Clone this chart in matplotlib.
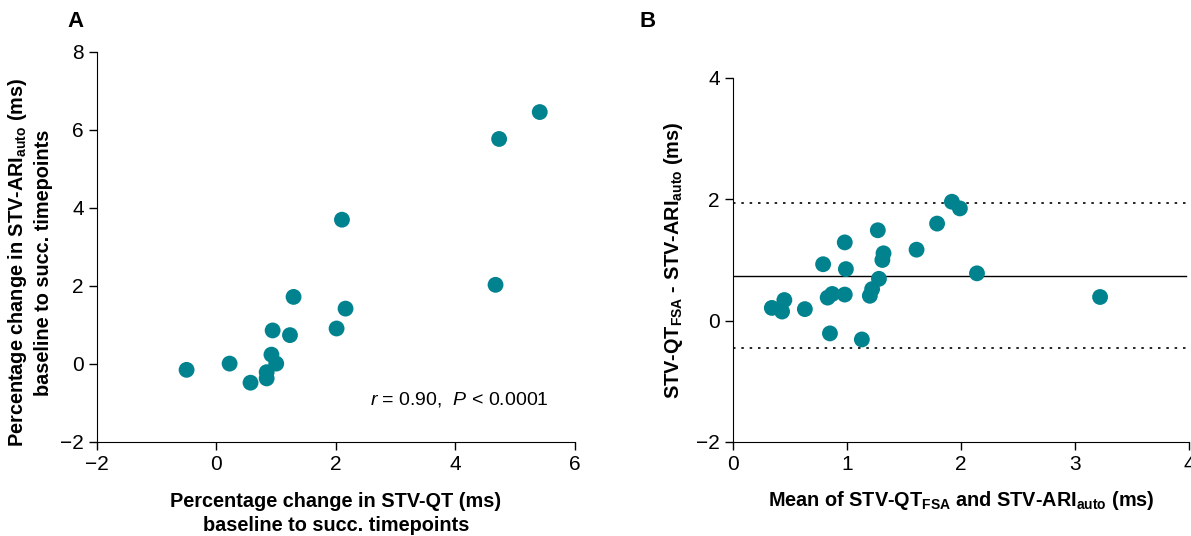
import matplotlib
matplotlib.use("Agg")
import matplotlib.pyplot as plt

plt.rcParams['font.family'] = ['Liberation Sans', 'DejaVu Sans']
plt.rcParams['mathtext.fontset'] = 'custom'
plt.rcParams['mathtext.rm'] = 'Liberation Sans'
plt.rcParams['mathtext.bf'] = 'Liberation Sans:bold'
plt.rcParams['mathtext.it'] = 'Liberation Sans:italic'

# panel A: percentage change, STV-QT vs STV-ARI
a_x = [-0.50, 0.22, 0.57, 0.84, 0.84, 0.92, 1.00, 0.94, 1.23, 1.29,
       2.01, 2.16, 2.10, 4.67, 4.73, 5.41]
a_y = [-0.15, 0.01, -0.48, -0.21, -0.37, 0.24, 0.01, 0.86, 0.74, 1.72,
       0.91, 1.42, 3.70, 2.03, 5.77, 6.46]

# panel B: Bland-Altman
b_mean = [0.34, 0.43, 0.45, 0.63, 0.79, 0.83, 0.87, 0.85, 0.98, 0.98,
          0.99, 1.13, 1.20, 1.22, 1.28, 1.27, 1.31, 1.32, 1.61, 1.79,
          1.92, 1.99, 2.14, 3.22]
b_diff = [0.21, 0.15, 0.34, 0.19, 0.93, 0.38, 0.44, -0.21, 0.43, 1.29,
          0.85, -0.31, 0.41, 0.52, 0.69, 1.49, 1.00, 1.11, 1.17, 1.60,
          1.96, 1.85, 0.78, 0.39]
bias = 0.74
loa_hi = 1.94
loa_lo = -0.45

teal = '#00838f'

fig = plt.figure(figsize=(11.91, 5.36), dpi=100)
axA = fig.add_axes([0.0814, 0.1754, 0.4014, 0.7276])
axB = fig.add_axes([0.6155, 0.1754, 0.3828, 0.6791])

for ax in (axA, axB):
    ax.spines['top'].set_visible(False)
    ax.spines['right'].set_visible(False)
    ax.tick_params(direction='out', length=6, width=1, labelsize=15)

axA.scatter(a_x, a_y, s=130, color=teal, edgecolors='none', zorder=3)
axA.set_xlim(-2, 6)
axA.set_ylim(-2, 8)
axA.set_xticks([-2, 0, 2, 4, 6])
axA.set_yticks([-2, 0, 2, 4, 6, 8])
axA.set_xticklabels(['\u22122', '0', '2', '4', '6'])
axA.set_yticklabels(['\u22122', '0', '2', '4', '6', '8'])
axA.set_xlabel('Percentage change in STV-QT (ms)\nbaseline to succ. timepoints',
               fontsize=14.3, fontweight='bold', labelpad=13, linespacing=1.35)
axA.set_ylabel('Percentage change in STV-ARI$_{\\mathbf{auto}}$ (ms)\nbaseline to succ. timepoints',
               fontsize=14.3, fontweight='bold', linespacing=1.35)
axA.yaxis.set_label_coords(-0.092, 0.46)
axA.text(0.945, 0.108, '$\\mathit{r}$ = 0.90,  $\\mathit{P}$ < 0.0001',
         transform=axA.transAxes, ha='right', va='center', fontsize=14)
fig.text(0.057, 0.96, 'A', fontsize=16, fontweight='bold', va='center')

axB.scatter(b_mean, b_diff, s=130, color=teal, edgecolors='none', zorder=3)
axB.axhline(bias, color='black', lw=1, xmax=0.993)
axB.axhline(loa_hi, color='black', lw=1.2, dashes=(1.5, 3.5))
axB.axhline(loa_lo, color='black', lw=1.2, dashes=(1.5, 3.5))
axB.set_xlim(0, 4)
axB.set_ylim(-2, 4)
axB.set_xticks([0, 1, 2, 3, 4])
axB.set_yticks([-2, 0, 2, 4])
axB.set_yticklabels(['\u22122', '0', '2', '4'])
axB.set_xlabel('Mean of STV-QT$_{\\mathbf{FSA}}$ and STV-ARI$_{\\mathbf{auto}}$ (ms)',
               fontsize=14.3, fontweight='bold', labelpad=11)
axB.set_ylabel('STV-QT$_{\\mathbf{FSA}}$ - STV-ARI$_{\\mathbf{auto}}$ (ms)',
               fontsize=14.3, fontweight='bold')
axB.yaxis.set_label_coords(-0.105, 0.5)
fig.text(0.537, 0.96, 'B', fontsize=16, fontweight='bold', va='center')

fig.savefig('out.png', dpi=100)
